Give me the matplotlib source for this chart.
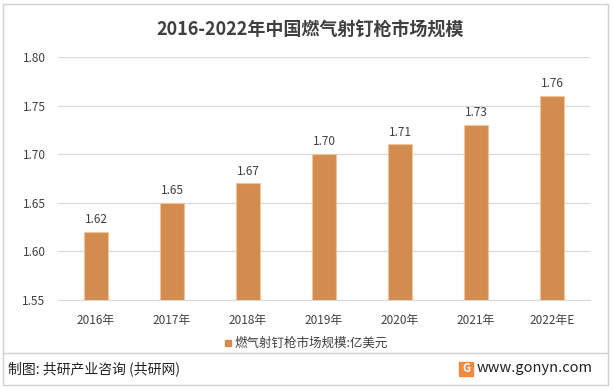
import matplotlib.pyplot as plt
import numpy as np
from matplotlib.patches import Rectangle

plt.rcParams['font.family'] = ['Noto Sans CJK SC', 'DejaVu Sans']

years = ['2016年', '2017年', '2018年', '2019年', '2020年', '2021年', '2022年E']
values = [1.62, 1.65, 1.67, 1.70, 1.71, 1.73, 1.76]

fig = plt.figure(figsize=(6.13, 3.89), dpi=100)
ax = fig.add_axes([58 / 613, 89 / 389, 532 / 613, 243 / 389])

x = np.arange(len(years))
ax.bar(x, values, width=0.32, color='#D38C4F', edgecolor='#F0C39A', linewidth=0.8,
       zorder=3, bottom=0)
for xi, v in zip(x, values):
    ax.text(xi, v + 0.006, f'{v:.2f}', ha='center', va='bottom', fontsize=8.5, color='#404040')

ax.set_xlim(-0.5, len(years) - 0.5)
ax.set_ylim(1.55, 1.80)
ticks = np.arange(1.55, 1.801, 0.05)
ax.set_yticks(ticks)
ax.set_yticklabels([f'{t:.2f}' for t in ticks])
ax.yaxis.grid(True, color='#D9D9D9', linewidth=0.9, zorder=0)
ax.set_xticks(x)
ax.set_xticklabels(years)
ax.tick_params(axis='both', length=0, labelsize=8.5, colors='#404040')
ax.tick_params(axis='y', pad=9)
ax.tick_params(axis='x', pad=10)
for s in ax.spines.values():
    s.set_visible(False)
ax.spines['bottom'].set_visible(True)
ax.spines['bottom'].set_color('#D9D9D9')

fig.text(310 / 613, 1 - 30 / 389, '2016-2022年中国燃气射钉枪市场规模', ha='center', va='center',
         fontsize=13, fontweight='bold', color='#404040')

# legend
fig.patches.append(Rectangle((225 / 613, 1 - 346 / 389), 6 / 613, 6 / 389,
                             transform=fig.transFigure, color='#D38C4F'))
fig.text(234 / 613, 1 - 343 / 389, '燃气射钉枪市场规模:亿美元', ha='left', va='center',
         fontsize=9, color='#404040')

# frame and footer
fig.patches.append(Rectangle((3 / 613, 4 / 389), 605 / 613, 381 / 389, transform=fig.transFigure,
                             fill=False, edgecolor='#D0D0D0', linewidth=1))
fig.lines.append(plt.Line2D([3 / 613, 608 / 613], [1 - 353 / 389, 1 - 353 / 389],
                            transform=fig.transFigure, color='#D0D0D0', linewidth=1))
fig.text(8 / 613, 1 - 369 / 389, '制图: 共研产业咨询 (共研网)', ha='left', va='center',
         fontsize=10, color='#222222')
fig.patches.append(Rectangle((459 / 613, 1 - 376 / 389), 14 / 613, 14 / 389,
                             transform=fig.transFigure, color='#F08A3C'))
fig.text(466 / 613, 1 - 369 / 389, 'G', ha='center', va='center', fontsize=8,
         fontweight='bold', color='white')
fig.text(593 / 613, 1 - 368 / 389, 'www.gonyn.com', ha='right', va='center',
         fontsize=10.5, color='#222222')

plt.savefig('out.png', dpi=100)
